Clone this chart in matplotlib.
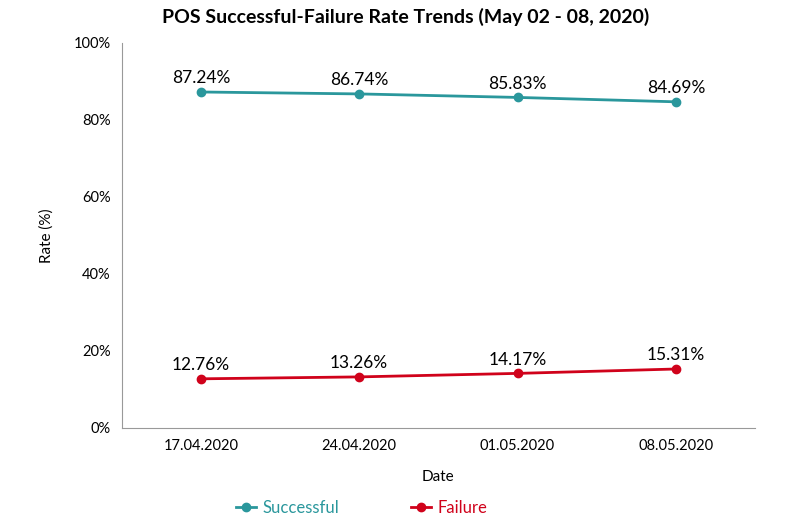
import matplotlib
matplotlib.use("Agg")
import matplotlib.pyplot as plt
from matplotlib.ticker import FuncFormatter

dates = ["17.04.2020", "24.04.2020", "01.05.2020", "08.05.2020"]
successful = [87.24, 86.74, 85.83, 84.69]
failure = [12.76, 13.26, 14.17, 15.31]
yticks = [0, 20, 40, 60, 80, 100]

plt.rcParams['font.family'] = ['Lato', 'DejaVu Sans']
c_s = '#2a979c'
c_f = '#d0021b'

fig = plt.figure(figsize=(8.11, 5.29), dpi=100)
ax = fig.add_axes([0.150, 0.191, 0.781, 0.728])
x = list(range(len(dates)))
ax.plot(x, successful, color=c_s, lw=2, marker='o', ms=6, label='Successful')
ax.plot(x, failure, color=c_f, lw=2, marker='o', ms=6, label='Failure')
for xi, v in zip(x, successful):
    ax.annotate(f"{v:.2f}%", (xi, v), xytext=(0, 4), textcoords='offset points',
                ha='center', va='bottom', fontsize=12.5, color='black')
for xi, v in zip(x, failure):
    ax.annotate(f"{v:.2f}%", (xi, v), xytext=(0, 4), textcoords='offset points',
                ha='center', va='bottom', fontsize=12.5, color='black')

ax.set_xlim(-0.5, len(dates) - 0.5)
ax.set_ylim(0, 100)
ax.set_yticks(yticks)
ax.yaxis.set_major_formatter(FuncFormatter(lambda v, p: f"{int(v)}%"))
ax.set_xticks(x)
ax.set_xticklabels(dates)
ax.tick_params(length=0, labelsize=10.5, pad=8)
for s in ['top', 'right']:
    ax.spines[s].set_visible(False)
for s in ['left', 'bottom']:
    ax.spines[s].set_color('#999999')
ax.set_xlabel('Date', fontsize=11, labelpad=12)
ax.set_ylabel('Rate (%)', fontsize=11, labelpad=14)
fig.suptitle('POS Successful-Failure Rate Trends (May 02 - 08, 2020)', fontsize=14,
             fontweight='bold', x=0.5, y=0.985)

leg = fig.legend(loc='center', bbox_to_anchor=(0.446, 0.04), ncol=2, frameon=False,
                 fontsize=12, handlelength=1.2, columnspacing=4.3, handletextpad=0.4)
for t, c in zip(leg.get_texts(), [c_s, c_f]):
    t.set_color(c)

fig.savefig('out.png', dpi=100)
